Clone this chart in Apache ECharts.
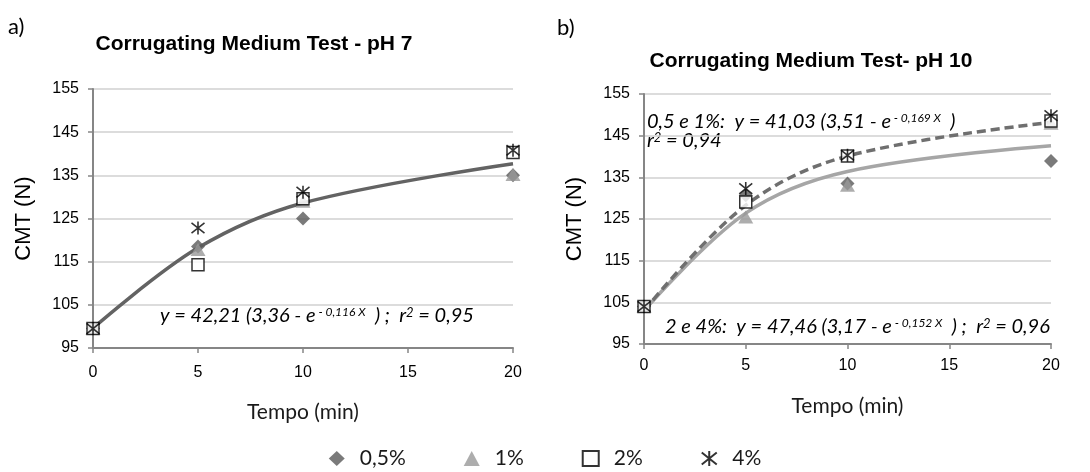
<!DOCTYPE html>
<html>
<head>
<meta charset="utf-8">
<script src="https://cdn.jsdelivr.net/npm/echarts@6/dist/echarts.min.js"></script>
<style>
  html, body { margin: 0; padding: 0; background: #fff; }
  #chart { width: 1090px; height: 472px; }
</style>
</head>
<body>
<div id="chart"></div>
<script>
// Sampling times (min)
const minutes = [0, 5, 10, 20];
const xTicks = { min: 0, max: 20, step: 5 };
const yTicks = { min: 95, max: 155, step: 10 };

// CMT (N) at pH 7, by dosage
const ph7Half = [99.5, 118.5, 125.0, 135.0];
const ph7One = [99.5, 117.8, 129.0, 135.2];
const ph7Two = [99.5, 114.3, 129.6, 140.3];
const ph7Four = [99.5, 122.8, 131.1, 140.8];
const ph7Fit = [99.6, 118.2, 128.6, 137.7];

// CMT (N) at pH 10, by dosage
const ph10Half = [104.0, 130.7, 133.5, 138.9];
const ph10One = [104.0, 125.5, 133.1, 148.0];
const ph10Two = [104.0, 129.1, 140.1, 148.5];
const ph10Four = [104.0, 132.3, 140.3, 149.8];
const ph10FitSolid = [103.0, 126.4, 136.4, 142.6];
const ph10FitDashed = [103.0, 128.3, 140.1, 148.2];

const dosageNames = ['0,5%', '1%', '2%', '4%'];

const pair = (xs, ys) => xs.map((x, i) => [x, ys[i]]);

const ARIAL = '"Liberation Sans", Arial, sans-serif';
const CALIBRI = 'Lato, "Open Sans", sans-serif';
const STAR = 'path://M5,0L5,10M0,1L10,9M0,9L10,1';

const markerStyles = [
  { symbol: 'diamond', symbolSize: [14, 14], itemStyle: { color: '#595959' } },
  { symbol: 'triangle', symbolSize: [15, 13], itemStyle: { color: '#999999' } },
  { symbol: 'rect', symbolSize: [12, 12], itemStyle: { color: '#ffffff', borderColor: '#000', borderWidth: 1.5 } },
  { symbol: STAR, symbolSize: [13, 13], itemStyle: { color: 'rgba(0,0,0,0)', borderColor: '#000', borderWidth: 1.6 } }
];

function scatterSeries(idx, values, k) {
  return Object.assign({
    type: 'scatter', name: dosageNames[k], xAxisIndex: idx, yAxisIndex: idx,
    data: pair(minutes, values), symbolKeepAspect: true, z: 3 + k,
    emphasis: { disabled: true }
  }, markerStyles[k]);
}

function fitSeries(idx, name, values, color, dashed) {
  return {
    type: 'line', name, xAxisIndex: idx, yAxisIndex: idx,
    data: pair(minutes, values), smooth: 0.35, showSymbol: false, z: 2,
    lineStyle: { color, width: 3.5, type: dashed ? [9, 5] : 'solid' },
    emphasis: { disabled: true }
  };
}

function xAxis(idx, labelMargin, nameGap) {
  return {
    type: 'value', gridIndex: idx, min: xTicks.min, max: xTicks.max, interval: xTicks.step,
    name: 'Tempo (min)', nameLocation: 'middle', nameGap,
    nameTextStyle: { fontFamily: CALIBRI, fontSize: 21, color: '#1a1a1a' },
    axisLine: { show: true, onZero: false, lineStyle: { color: '#868686', width: 2 } },
    axisTick: { show: true, length: 5, lineStyle: { color: '#868686', width: 1.5 } },
    axisLabel: { fontFamily: ARIAL, fontSize: 16, color: '#000', margin: labelMargin },
    splitLine: { show: false }
  };
}

function yAxis(idx) {
  return {
    type: 'value', gridIndex: idx, min: yTicks.min, max: yTicks.max, interval: yTicks.step,
    name: 'CMT (N)', nameLocation: 'middle', nameGap: 58, nameRotate: 90,
    nameTextStyle: { fontFamily: ARIAL, fontSize: 22, color: '#000' },
    axisLine: { show: true, lineStyle: { color: '#868686', width: 2 } },
    axisTick: { show: true, length: 5, lineStyle: { color: '#868686', width: 1.5 } },
    axisLabel: { fontFamily: ARIAL, fontSize: 16, color: '#000', margin: 14 },
    splitLine: { show: true, lineStyle: { color: '#d0d0d0', width: 1.5 } }
  };
}

// Equation text: italic body with raised exponents
const eqRich = {
  i: { fontFamily: CALIBRI, fontStyle: 'italic', fontSize: 20, color: '#000' },
  s: { fontFamily: CALIBRI, fontStyle: 'italic', fontSize: 12, color: '#000', verticalAlign: 'top' },
  q: { fontFamily: CALIBRI, fontStyle: 'italic', fontSize: 13, color: '#000', verticalAlign: 'top' }
};

function label(x, y, text, opts) {
  return {
    type: 'text', x, y, silent: true,
    style: Object.assign({ text, fill: '#000', verticalAlign: 'middle' }, opts)
  };
}

const chart = echarts.init(document.getElementById('chart'), null, { renderer: 'canvas' });
chart.setOption({
  animation: false,
  backgroundColor: '#fff',
  grid: [
    { left: 93, right: 577, top: 89, height: 259 },
    { left: 644, right: 39, top: 94, height: 250 }
  ],
  xAxis: [xAxis(0, 17, 54), xAxis(1, 14, 52)],
  yAxis: [yAxis(0), yAxis(1)],
  legend: {
    data: dosageNames, top: 443, left: 'center', itemGap: 58, itemWidth: 16, itemHeight: 15,
    textStyle: { fontFamily: CALIBRI, fontSize: 21, color: '#1a1a1a', padding: [0, 0, 0, 10] },
    selectedMode: false
  },
  graphic: [
    label(8, 27, 'a)', { font: '22px ' + CALIBRI }),
    label(557, 28, 'b)', { font: '22px ' + CALIBRI }),
    label(254, 44, 'Corrugating Medium Test - pH 7', { font: 'bold 21px ' + ARIAL, align: 'center' }),
    label(811, 61, 'Corrugating Medium Test- pH 10', { font: 'bold 21px ' + ARIAL, align: 'center' }),
    label(160, 316, '{i|y = 42,21 (3,36 - e}{s| - 0,116 X}{i|  ) ;  r}{q|2}{i| = 0,95}', { rich: eqRich }),
    label(647, 122, '{i|0,5 e 1%:  y = 41,03 (3,51 - e}{s| - 0,169 X}{i|  )}', { rich: eqRich }),
    label(647, 141, '{i|r}{q|2}{i| = 0,94}', { rich: eqRich }),
    label(665, 327, '{i|2 e 4%:  y = 47,46 (3,17 - e}{s| - 0,152 X}{i|  ) ;  r}{q|2}{i| = 0,96}', { rich: eqRich })
  ],
  series: [
    fitSeries(0, 'ajuste pH 7', ph7Fit, '#636363', false),
    scatterSeries(0, ph7Half, 0),
    scatterSeries(0, ph7One, 1),
    scatterSeries(0, ph7Two, 2),
    scatterSeries(0, ph7Four, 3),
    fitSeries(1, 'ajuste 0,5 e 1%', ph10FitSolid, '#a6a6a6', false),
    fitSeries(1, 'ajuste 2 e 4%', ph10FitDashed, '#6f6f6f', true),
    scatterSeries(1, ph10Half, 0),
    scatterSeries(1, ph10One, 1),
    scatterSeries(1, ph10Two, 2),
    scatterSeries(1, ph10Four, 3)
  ]
});
</script>
</body>
</html>
